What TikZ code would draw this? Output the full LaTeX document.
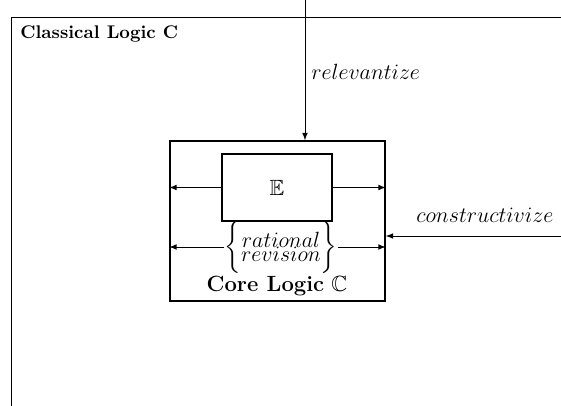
\documentclass[tikz,border=0pt]{standalone}
\usepackage{amssymb}
\usetikzlibrary{positioning}

\tikzset{
    box/.style={draw, line width=1pt, inner sep=0pt},
    lbl/.style={inner sep=0pt, font=\large}
}

\begin{document}
\begin{tikzpicture}[x=0.545pt, y=-0.545pt, >=latex]
    \useasboundingbox (0,0) rectangle (561,406);

    % Classical Logic
    \draw (11,406) -- (11,17) -- (561,17);
    \node[lbl, font=\normalsize, anchor=west] (cl) at (20,34) {\textbf{Classical Logic C}};

    % Core Logic
    \node[box, minimum width=117pt, minimum height=87pt] (core) at (277.5,221) {};
    \node[box, font=\large, minimum width=60pt, minimum height=36.5pt] (E) at (277,187.5) {$\mathbb{E}$};
    \node[lbl] (rr) at (281,247) {$\left\{\vcenter{\hbox{\shortstack{$rational$\\[-3.5pt]$revision$}}}\rule[-11pt]{0pt}{22pt}\right\}$};
    \node[lbl] (cc) at (277,286) {\textbf{Core Logic} $\mathbb{C}$};

    % Frecce interne
    \draw[->] (E.west) -- (E.west -| core.west);
    \draw[->] (E.east) -- (E.east -| core.east);
    \draw[->] (rr.west) -- (rr.west -| core.west);
    \draw[->] (rr.east) -- (rr.east -| core.east);

    % Frecce esterne
    \coordinate (top) at (305,0);
    \coordinate (side) at (561,236);
    \draw[->] (top) -- (top |- core.north);
    \draw[->] (side) -- (side -| core.east);

    % Etichette
    \node[lbl, anchor=west] (rel) at (311,72) {$relevantize$};
    \node[lbl, anchor=west] (con) at (416,215) {$constructivize$};
\end{tikzpicture}
\end{document}
